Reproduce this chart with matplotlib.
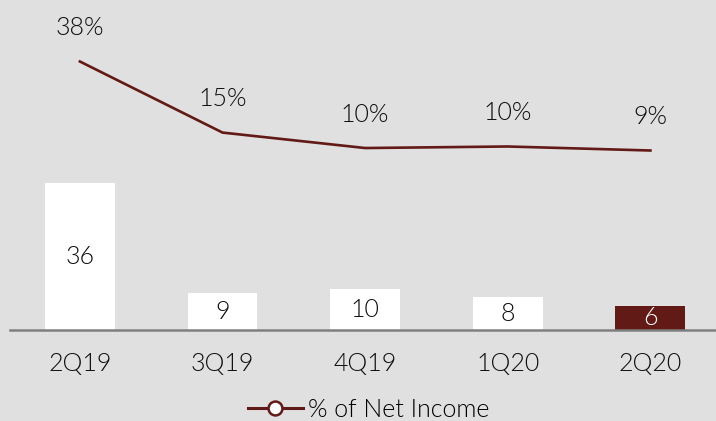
import matplotlib
matplotlib.use("Agg")
import matplotlib.pyplot as plt
from matplotlib.lines import Line2D

categories = ["2Q19", "3Q19", "4Q19", "1Q20", "2Q20"]
bar_values = [36, 9, 10, 8, 6]
pct_values = [38, 15, 10, 10.5, 9.2]
legend_label = "% of Net Income"

BG = "#e0e0e0"
RED = "#621a16"
TXT = "#0d0d0d"
W = 300
plt.rcParams['font.family'] = ['Lato', 'DejaVu Sans']

fig = plt.figure(figsize=(7.16, 4.21), dpi=100, facecolor=BG)
ax = fig.add_axes([0.014, 0.216, 0.986, 0.784])
ax.set_facecolor(BG)
x = list(range(len(categories)))
colors = ["white"] * (len(categories) - 1) + [RED]
bars = ax.bar(x, bar_values, width=0.49, color=colors, zorder=2)
for xi, v, c in zip(x, bar_values, colors):
    ax.text(xi, v / 2, f"{v}", ha="center", va="center", fontsize=18,
            fontweight=W, color="white" if c == RED else TXT, zorder=3)
ax.set_xlim(-0.49, 4.46)
ax.set_ylim(0, 80.9)
for s in ["top", "right", "left"]:
    ax.spines[s].set_visible(False)
ax.spines["bottom"].set_color("#7f7f7f")
ax.spines["bottom"].set_linewidth(1.8)
ax.set_yticks([])
ax.set_xticks(x)
ax.set_xticklabels(categories, fontsize=18, color=TXT, fontweight=W)
ax.tick_params(axis="x", length=0, pad=16)

ax2 = ax.twinx()
ax2.set_ylim(-48.9, 57.9)
ax2.set_axis_off()
ax2.plot(x, pct_values, color=RED, lw=1.9, zorder=4)
for xi, v in zip(x, pct_values):
    ax2.annotate(f"{v:.0f}%", (xi, v), xytext=(0, 24), textcoords="offset points",
                 ha="center", va="center", fontsize=18, fontweight=W, color=TXT)

h = Line2D([], [], color=RED, lw=2.2, marker="o", markersize=10,
           markerfacecolor="white", markeredgecolor=RED, markeredgewidth=1.8)
fig.legend([h], [legend_label], loc="center", bbox_to_anchor=(0.515, 0.027),
           frameon=False, prop={"size": 18, "weight": W},
           handlelength=2.2, handletextpad=0.2)

fig.savefig("out.png", dpi=100, facecolor=BG)
